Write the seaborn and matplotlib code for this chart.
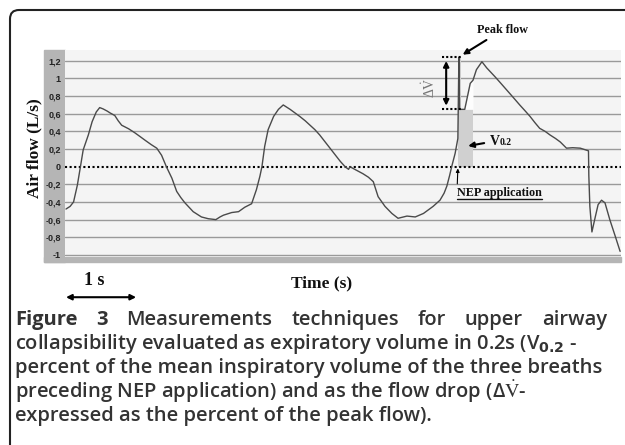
import numpy as np
import pandas as pd
import matplotlib
matplotlib.use("Agg")
import matplotlib.pyplot as plt
from matplotlib.patches import Rectangle, FancyBboxPatch
from matplotlib.lines import Line2D
from matplotlib.transforms import IdentityTransform
import seaborn as sns

# flow trace (time in s, flow in L/s)
time_s = [0.00, 0.06, 0.11, 0.165, 0.21, 0.25, 0.325, 0.38, 0.44, 0.49, 0.54, 0.60, 0.64, 0.71,
          0.76, 0.81, 0.86, 0.91, 1.00, 1.08, 1.15, 1.24, 1.32, 1.39, 1.46, 1.54, 1.61, 1.67,
          1.73, 1.85, 1.97, 2.07, 2.18, 2.24, 2.29, 2.41, 2.51, 2.60, 2.70, 2.77, 2.82, 2.85,
          2.89, 2.94, 3.02, 3.09, 3.16, 3.26, 3.33, 3.40, 3.48, 3.55, 3.62, 3.69, 3.77, 3.84,
          3.92, 3.99, 4.06, 4.11, 4.13, 4.20, 4.32, 4.40, 4.47, 4.54, 4.64, 4.74, 4.83, 4.96,
          5.08, 5.20, 5.34, 5.44, 5.50, 5.54, 5.58, 5.61, 5.66, 5.70, 5.715, 5.725, 5.80, 5.83,
          5.88, 5.92, 5.97, 6.05, 6.12, 6.24, 6.32, 6.41, 6.50, 6.60, 6.67, 6.75, 6.82, 6.89,
          6.97, 7.04, 7.12, 7.19, 7.28, 7.37, 7.48, 7.60, 7.605, 7.62, 7.65, 7.69, 7.74, 7.79,
          7.84, 7.91, 7.99, 8.06]
flow = [-0.48, -0.45, -0.40, -0.21, 0.00, 0.19, 0.36, 0.51, 0.62, 0.67, 0.655, 0.63, 0.61, 0.58,
        0.52, 0.47, 0.45, 0.43, 0.385, 0.34, 0.30, 0.25, 0.21, 0.13, 0.00, -0.13, -0.28, -0.35,
        -0.41, -0.51, -0.57, -0.59, -0.60, -0.57, -0.55, -0.52, -0.51, -0.46, -0.42, -0.26, -0.11, 0.00,
        0.23, 0.42, 0.57, 0.65, 0.70, 0.65, 0.61, 0.57, 0.52, 0.47, 0.42, 0.36, 0.28, 0.21,
        0.13, 0.06, 0.00, -0.03, 0.00, -0.03, -0.08, -0.12, -0.17, -0.34, -0.45, -0.53, -0.585, -0.56,
        -0.57, -0.53, -0.45, -0.38, -0.30, -0.22, -0.10, 0.00, 0.15, 0.32, 1.24, 0.65, 0.65, 0.76,
        0.945, 0.98, 1.10, 1.19, 1.12, 1.02, 0.95, 0.87, 0.79, 0.70, 0.64, 0.57, 0.50, 0.435,
        0.40, 0.36, 0.32, 0.28, 0.21, 0.215, 0.21, 0.18, -0.10, -0.45, -0.74, -0.60, -0.43, -0.38,
        -0.41, -0.60, -0.79, -0.96]

y_ticks = [1.2, 1.0, 0.8, 0.6, 0.4, 0.2, 0.0, -0.2, -0.4, -0.6, -0.8, -1.0]
y_labels = ["1,2", "1", "0,8", "0,6", "0,4", "0,2", "0", "-0,2", "-0,4", "-0,6", "-0,8", "-1"]
x_ticks = [0, 1, 2, 3, 4, 5, 6, 7, 8]

nep_t = 5.70      # NEP application
v02_end = 5.92    # NEP + 0.2 s
peak_flow = 1.24
drop_level = 0.65

caption = [
    "collapsibility evaluated as expiratory volume in 0.2s (V$_{\\mathbf{0.2}}$ -",
    "percent of the mean inspiratory volume of the three breaths",
    "preceding NEP application) and as the flow drop (\u0394$\\dot{\\mathrm{V}}$-",
    "expressed as the percent of the peak flow).",
]
caption_first = ["Figure", "3", "Measurements", "techniques", "for", "upper", "airway"]

df = pd.DataFrame({"t": time_s, "flow": flow})

sns.set_style("white")
plt.rcParams["font.family"] = ["DejaVu Sans"]

fig = plt.figure(figsize=(6.25, 4.45), dpi=100)
inch = fig.dpi_scale_trans
H = 4.45

# outer frame with rounded corner
fig.patches.append(FancyBboxPatch((0.10, -0.6), 7.0, H - 0.10 + 0.6, boxstyle="round,pad=0,rounding_size=0.09",
                                  transform=inch, fill=False, edgecolor="#222222", lw=1.5, zorder=-2))
# grey axis bands
fig.patches.append(Rectangle((0.44, H - 2.62), 0.21, 2.12, transform=inch, color="#b5b5b5", zorder=-1))
fig.patches.append(Rectangle((0.44, H - 2.62), 5.77, 0.05, transform=inch, color="#b5b5b5", zorder=-1))

ax = fig.add_axes([65 / 625, (445 - 257) / 445, (621 - 65) / 625, (257 - 50) / 445])
ax.set_facecolor("#f4f4f4")
for s in ax.spines.values():
    s.set_visible(False)

for v in y_ticks:
    if v != 0:
        ax.axhline(v, color="#9a9a9a", lw=1.0, zorder=1)
ax.axhline(0, color="black", lw=1.5, ls=(0, (1, 1.2)), zorder=4)

# shaded V0.2 area
ax.fill_between([nep_t, v02_end], 0, drop_level, color="#d0d0d0", lw=0, zorder=2)
ax.fill_between([nep_t, nep_t + 0.04], drop_level, peak_flow, color="#cccccc", lw=0, zorder=2)
mask = (df["t"] >= 5.725) & (df["t"] <= v02_end)
ax.fill_between(df["t"][mask], drop_level, df["flow"][mask], color="#fdfdfd", lw=0, zorder=2)

sns.lineplot(data=df, x="t", y="flow", ax=ax, color="#4a4a4a", lw=1.0, sort=False, estimator=None, zorder=5)

ax.set_xlim(-0.0145, 8.073)
ax.set_ylim(-1.024, 1.323)
ax.set_xticks(x_ticks)
ax.set_yticks(y_ticks)
ax.set_yticklabels(y_labels, fontfamily="Liberation Sans", fontweight="bold", fontsize=6.5, color="#222222")
ax.tick_params(axis="x", direction="out", length=4, width=1, color="#444444", labelbottom=False)
ax.tick_params(axis="y", length=0, pad=3)

serif = dict(fontfamily="Liberation Serif", fontweight="bold", color="#111111")
ax.set_ylabel("Air flow (L/s)", fontsize=12.5, **serif)
ax.yaxis.set_label_coords(-0.041, 0.527)
ax.set_xlabel("Time (s)", fontsize=12.5, **serif)
ax.xaxis.set_label_coords(0.462, -0.087)

# delta V annotation
ax.plot([5.47, 5.75], [peak_flow, peak_flow], color="black", lw=1.5, ls=(0, (1, 1)), zorder=6)
ax.plot([5.47, 5.75], [drop_level, drop_level], color="black", lw=1.5, ls=(0, (1, 1)), zorder=6)
ax.annotate("", xy=(5.53, peak_flow - 0.01), xytext=(5.53, drop_level + 0.01),
            arrowprops=dict(arrowstyle="<|-|>", color="black", lw=1.5, mutation_scale=8), zorder=6)
ax.text(5.28, 0.89, "\u0394$\\dot{\\mathrm{V}}$", rotation=90, ha="center", va="center",
        fontsize=10, color="#777777", math_fontfamily="stix", fontfamily="Liberation Serif")

ax.annotate("Peak flow", xy=(5.77, 1.27), xytext=(5.98, 1.55), fontsize=8.7, ha="left", va="center",
            annotation_clip=False, arrowprops=dict(arrowstyle="-|>", color="black", lw=1.5, mutation_scale=8,
                                                   shrinkA=1, shrinkB=0), **serif)
ax.annotate("V", xy=(5.85, 0.235), xytext=(6.17, 0.29), fontsize=10, ha="left", va="center",
            arrowprops=dict(arrowstyle="-|>", color="black", lw=1.5, mutation_scale=8, shrinkA=2, shrinkB=0),
            **serif)
ax.text(6.31, 0.27, "0.2", fontsize=7, ha="left", va="center", **serif)
nep = ax.annotate("NEP application", xy=(nep_t, -0.02), xytext=(nep_t - 0.01, -0.30),
                  fontsize=8.7, ha="left", va="center",
                  arrowprops=dict(arrowstyle="-|>", color="black", lw=0.8, mutation_scale=5, shrinkA=0, shrinkB=0,
                                  relpos=(0, 1)), **serif)

# 1 s scale bar
ax.text(0.41, -1.285, "1 s", fontsize=13, ha="center", va="center", clip_on=False, **serif)
ax.annotate("", xy=(0, -1.48), xytext=(1.02, -1.48), annotation_clip=False,
            arrowprops=dict(arrowstyle="<|-|>", color="black", lw=1.5, mutation_scale=8, shrinkA=0, shrinkB=0))

# caption
cap = dict(fontfamily="Open Sans", fontsize=14.5, color="#333333", va="center")
renderer = fig.canvas.get_renderer()
words = []
for i, w in enumerate(caption_first):
    words.append(fig.text(0, (445 - 320) / 445, w, fontweight="bold" if i < 2 else "semibold", **cap))
widths = [t.get_window_extent(renderer).width for t in words]
gap = (607 - 15 - sum(widths)) / (len(words) - 1)
x = 15.0
for t, w in zip(words, widths):
    t.set_x(x / 625)
    x += w + gap
for i, line in enumerate(caption):
    fig.text(15 / 625, (445 - 344 - 24 * i) / 445, line, fontweight="semibold",
             math_fontfamily="dejavusans" if i == 0 else "stix", **cap)

# underline for NEP label
bb = nep.get_window_extent(renderer)
fig.add_artist(Line2D([bb.x0, bb.x1], [bb.y0, bb.y0], transform=IdentityTransform(), color="#111111", lw=1.0))

fig.savefig("out.png", dpi=100)
